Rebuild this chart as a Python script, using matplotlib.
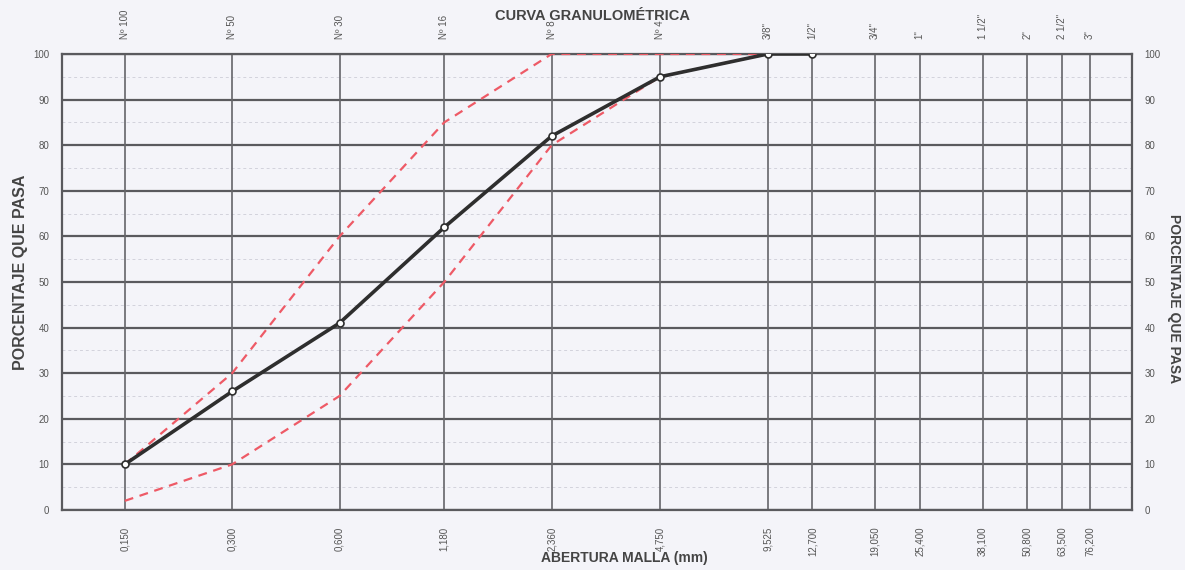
import matplotlib.pyplot as plt
from matplotlib.ticker import FixedLocator, NullFormatter, MultipleLocator

# sieve openings (mm) and names
sizes = [0.150, 0.300, 0.600, 1.180, 2.360, 4.750, 9.525, 12.700,
         19.050, 25.400, 38.100, 50.800, 63.500, 76.200]
size_labels = ["0,150", "0,300", "0,600", "1,180", "2,360", "4,750", "9,525",
               "12,700", "19,050", "25,400", "38,100", "50,800", "63,500", "76,200"]
sieve_names = ["Nº 100", "Nº 50", "Nº 30", "Nº 16", "Nº 8", "Nº 4", '3/8"', '1/2"',
               '3/4"', '1"', '1 1/2"', '2"', '2 1/2"', '3"']

# sample curve
sample_x = [0.150, 0.300, 0.600, 1.180, 2.360, 4.750, 9.525, 12.700]
sample_y = [10, 26, 41, 62, 82, 95, 100, 100]

# specification limits
lim_x = [0.150, 0.300, 0.600, 1.180, 2.360, 4.750, 9.525]
upper_y = [10, 30, 60, 85, 100, 100, 100]
lower_y = [2, 10, 25, 50, 80, 95, 100]

bg = "#f4f4f9"
grid_c = "#5a5a5e"
txt_c = "#555555"
font = ["Liberation Sans", "DejaVu Sans"]
plt.rcParams["font.family"] = font

fig = plt.figure(figsize=(11.85, 5.70), dpi=100, facecolor=bg)
ax = fig.add_axes([0.0523, 0.1053, 0.9030, 0.8000])
ax.set_facecolor(bg)

ax.set_xscale("log")
ax.set_xlim(0.1, 100)
ax.set_ylim(0, 100)

# grid
for y in range(5, 100, 10):
    ax.axhline(y, color="#d2d2dc", lw=0.7, ls=(0, (3, 3)), zorder=1)
for y in range(0, 101, 10):
    ax.axhline(y, color=grid_c, lw=1.6, zorder=2)
for x in sizes:
    ax.axvline(x, color="#65656a", lw=1.2, zorder=2)

# curves
ax.plot(lim_x, upper_y, color="#ee5a66", lw=1.6, ls=(0, (4, 3)), zorder=3)
ax.plot(lim_x, lower_y, color="#ee5a66", lw=1.6, ls=(0, (4, 3)), zorder=3)
ax.plot(sample_x, sample_y, color="#2e2e2e", lw=2.6, marker="o", ms=5,
        mfc="white", mec="#2e2e2e", mew=1.2, zorder=4)

for s in ax.spines.values():
    s.set_color(grid_c)
    s.set_linewidth(1.6)

ax.xaxis.set_major_locator(FixedLocator(sizes))
ax.xaxis.set_minor_locator(FixedLocator([]))
ax.xaxis.set_minor_formatter(NullFormatter())
ax.set_xticklabels(size_labels, rotation=90, fontsize=7, color=txt_c)
ax.tick_params(axis="x", length=0, pad=12)

ax.yaxis.set_major_locator(MultipleLocator(10))
ax.tick_params(axis="y", length=0, labelsize=7, labelcolor=txt_c, pad=9,
               right=True, labelright=True)

top = ax.secondary_xaxis("top")
top.xaxis.set_major_locator(FixedLocator(sizes))
top.xaxis.set_minor_locator(FixedLocator([]))
top.set_xticklabels(sieve_names, rotation=90, fontsize=7, color=txt_c)
top.tick_params(axis="x", length=0, pad=11)
top.spines["top"].set_visible(False)

fig.text(0.50, 0.972, "CURVA GRANULOMÉTRICA", ha="center", va="center",
         fontsize=10.5, fontweight="bold", color="#444444")
fig.text(0.527, 0.021, "ABERTURA MALLA (mm)", ha="center", va="center",
         fontsize=10, fontweight="bold", color="#444444")
fig.text(0.017, 0.523, "PORCENTAJE QUE PASA", ha="center", va="center",
         rotation=90, fontsize=11.5, fontweight="bold", color="#444444")
fig.text(0.991, 0.477, "PORCENTAJE QUE PASA", ha="center", va="center",
         rotation=-90, fontsize=10, fontweight="bold", color="#444444")

fig.savefig("out.png", dpi=100, facecolor=bg)
